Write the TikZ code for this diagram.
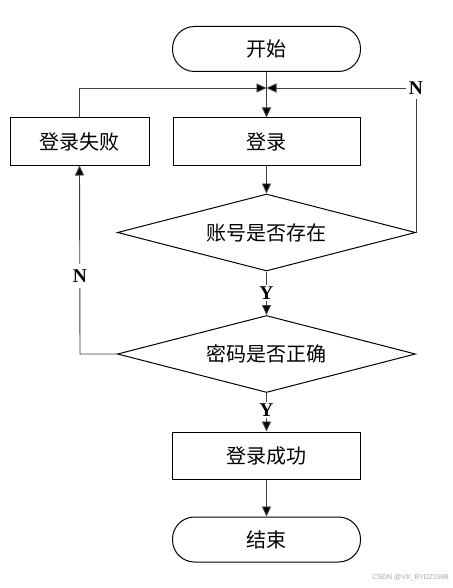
\documentclass[tikz,border=0pt]{standalone}
\usepackage{fontspec}
\setmainfont{Liberation Serif}
\newfontfamily\cjk{Noto Sans CJK SC}
\newfontfamily\wmfont{Liberation Sans}
\usetikzlibrary{shapes.geometric,arrows.meta}
\begin{document}
\begin{tikzpicture}[x=1pt,y=-1pt,
  every node/.style={inner sep=0pt},
  txt/.style={font=\cjk\fontsize{20}{22}\selectfont},
  term/.style={txt,draw=black,line width=1pt,rounded corners=22pt,minimum width=188pt,minimum height=45pt},
  proc/.style={txt,draw=black,line width=1pt,minimum height=47pt},
  dec/.style={txt,draw=black,line width=1pt,diamond,aspect=3.87,minimum width=298pt,minimum height=77pt},
  conn/.style={draw=black!75,line width=0.9pt,-{Triangle[length=10pt,width=9pt,fill=black]}},
  lab/.style={font=\bfseries\fontsize{19.5}{21}\selectfont,fill=white,inner sep=3pt}]
\useasboundingbox (0,0) rectangle (452,588);
\node[term] (start) at (266.5,49) {开始};
\node[proc,minimum width=187pt] (login) at (266.5,141.5) {登录};
\node[proc,minimum width=139pt] (fail) at (79.5,141.5) {登录失败};
\node[dec] (d1) at (266.5,232.5) {账号是否存在};
\node[dec] (d2) at (266.5,354) {密码是否正确};
\node[proc,minimum width=188pt] (succ) at (266.5,455.5) {登录成功};
\node[term] (end) at (266.5,539.5) {结束};
\coordinate (J) at (266.5,88);
\coordinate (R) at (416,88);
\coordinate (L) at (80,354);
% connectors
\draw[conn] (start.south) -- (login.north);
\draw[conn] (fail.north) |- (J);
\draw[conn] (d1.east) -- (R) -- (J);
\draw[conn] (login.south) -- (d1.north);
\draw[conn] (d1.south) -- (d2.north);
\draw[conn] (d2.west) -- (L) -- (fail.south);
\draw[conn] (d2.south) -- (succ.north);
\draw[conn] (succ.south) -- (end.north);
% labels
\node[lab,inner xsep=3pt,inner ysep=5pt] (nr) at (416,88) {N};
\node[lab,inner ysep=6pt] (nl) at (80,276) {N};
\node[lab,inner sep=1.5pt] (y1) at (266.5,293) {Y};
\node[lab,inner sep=1.5pt] (y2) at (266.5,410) {Y};
\node[font=\wmfont\fontsize{7}{8}\selectfont,text=black!35,anchor=east] (wm) at (449,578) {CSDN @VX\_BYDZ1988};
\end{tikzpicture}
\end{document}
